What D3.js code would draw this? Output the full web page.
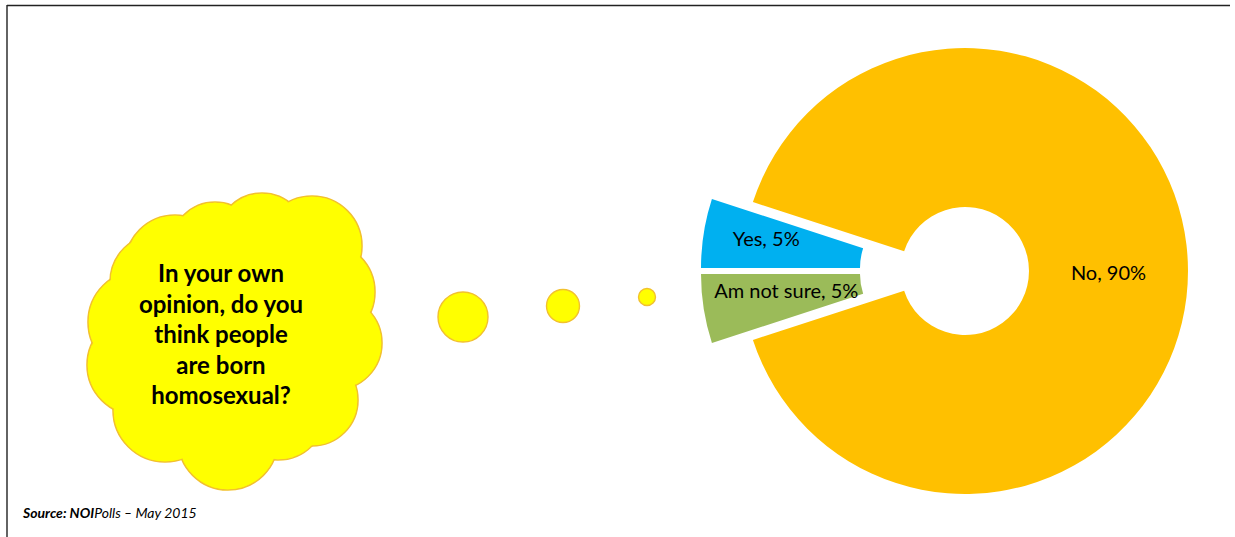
<!DOCTYPE html>
<html>
<head>
<meta charset="utf-8">
<script src="https://cdn.jsdelivr.net/npm/d3@7"></script>
<style>
  html, body { margin: 0; padding: 0; background: #fff; }
  svg { display: block; }
</style>
</head>
<body>
<svg id="chart" width="1235" height="537"></svg>
<script>
// Survey answers, in the order they run clockwise from the 9 o'clock position
const categories = ["Yes", "No", "Am not sure"];
const values = [5, 90, 5];
const colors = ["#00B0F0", "#FFC000", "#9BBB59"];
const exploded = [true, false, true];

const questionLines = ["In your own", "opinion, do you", "think people", "are born", "homosexual?"];

const W = 1235, H = 537;
const svg = d3.select("#chart");

// Frame lines
svg.append("line").attr("x1", 7).attr("y1", 5.5).attr("x2", 1230).attr("y2", 5.5)
  .attr("stroke", "#222").attr("stroke-width", 1.4);
svg.append("line").attr("x1", 7).attr("y1", 5).attr("x2", 7).attr("y2", H)
  .attr("stroke", "#222").attr("stroke-width", 1.4);

// ---- Thought cloud ----
const cloudParts = [
  [232, 340, 110],
  [175, 265, 50], [215, 246, 44], [262, 238, 45], [312, 246, 50],
  [325, 292, 50], [335, 343, 47], [312, 400, 46], [278, 412, 48],
  [228, 440, 50], [165, 410, 52], [137, 365, 50], [140, 322, 52], [158, 282, 48]
];
const cloud = svg.append("g");
const cloudStroke = "#F2C12E";
cloud.selectAll("circle.edge").data(cloudParts).join("circle")
  .attr("class", "edge")
  .attr("cx", d => d[0]).attr("cy", d => d[1]).attr("r", d => d[2])
  .attr("fill", "#FFFF00").attr("stroke", cloudStroke).attr("stroke-width", 1.6);
cloud.selectAll("circle.fill").data(cloudParts).join("circle")
  .attr("class", "fill")
  .attr("cx", d => d[0]).attr("cy", d => d[1]).attr("r", d => d[2] - 0.8)
  .attr("fill", "#FFFF00");

// Trail of thought bubbles toward the chart
const bubbles = [[463, 317, 25], [563, 306, 16.5], [647, 297, 8.5]];
svg.selectAll("circle.bubble").data(bubbles).join("circle")
  .attr("class", "bubble")
  .attr("cx", d => d[0]).attr("cy", d => d[1]).attr("r", d => d[2])
  .attr("fill", "#FFFF00").attr("stroke", cloudStroke).attr("stroke-width", 1.4);

svg.append("text")
  .attr("x", 221).attr("y", 282)
  .attr("text-anchor", "middle")
  .style("font-family", "Lato, 'Open Sans', sans-serif")
  .style("font-weight", "bold").style("font-size", "24px").attr("fill", "#000")
  .selectAll("tspan").data(questionLines).join("tspan")
  .attr("x", 221).attr("dy", (d, i) => i === 0 ? 0 : 30.5)
  .text(d => d);

// ---- Doughnut ----
const cx = 965, cy = 271;
const outerR = 223, innerR = 64;
const explodeX = 41, explodeY = 3;

const pie = d3.pie().sort(null).value(d => d)
  .startAngle(Math.PI * 1.5).endAngle(Math.PI * 3.5);
const arcs = pie(values);
const arc = d3.arc().innerRadius(innerR).outerRadius(outerR);

function offset(a, i) {
  if (!exploded[i]) return [0, 0];
  const mid = (a.startAngle + a.endAngle) / 2;
  const sx = Math.sin(mid), sy = -Math.cos(mid);
  return [Math.sign(sx) * explodeX, Math.sign(sy) * explodeY];
}

const donut = svg.append("g").attr("transform", `translate(${cx},${cy})`);
donut.selectAll("path").data(arcs).join("path")
  .attr("d", arc)
  .attr("fill", (d, i) => colors[i])
  .attr("transform", (d, i) => { const o = offset(d, i); return `translate(${o[0]},${o[1]})`; });

const labelNudge = [[-16, -8], [0, 1], [4, -6]];
donut.selectAll("text").data(arcs).join("text")
  .attr("transform", (d, i) => {
    const o = offset(d, i), c = arc.centroid(d);
    return `translate(${c[0] + o[0] + labelNudge[i][0]},${c[1] + o[1] + labelNudge[i][1]})`;
  })
  .attr("text-anchor", "middle")
  .attr("dominant-baseline", "central")
  .style("font-family", "Lato, 'Open Sans', sans-serif")
  .style("font-size", "20px").attr("fill", "#000")
  .text((d, i) => `${categories[i]}, ${values[i]}%`);

// ---- Source note ----
const src = svg.append("text").attr("x", 23).attr("y", 518)
  .style("font-family", "Lato, 'Open Sans', sans-serif")
  .style("font-size", "14px").style("font-style", "italic").attr("fill", "#000");
src.append("tspan").style("font-weight", "bold").text("Source: NOI");
src.append("tspan").text("Polls – May 2015");
</script>
</body>
</html>
